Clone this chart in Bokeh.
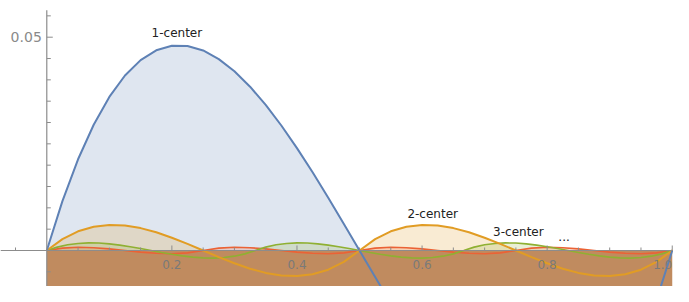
import numpy as np
from bokeh.plotting import figure
from bokeh.embed import file_html
from bokeh.resources import INLINE
from bokeh.core.properties import value

# ---- data ----
# 1-center (blue)
x1 = [0.0, 0.025, 0.05, 0.075, 0.1, 0.125, 0.15, 0.175, 0.2, 0.225, 0.25, 0.275, 0.3, 0.325, 0.35,
      0.375, 0.4, 0.425, 0.45, 0.475, 0.5, 0.525, 0.55, 0.575, 0.6, 0.625, 0.65, 0.675, 0.7, 0.725,
      0.75, 0.775, 0.8, 0.825, 0.85, 0.875, 0.9, 0.925, 0.95, 0.975, 1.0]
y1 = [0.0, 0.01158, 0.02138, 0.02948, 0.036, 0.04102, 0.04463, 0.04692, 0.048, 0.04795, 0.04688,
      0.04486, 0.042, 0.03839, 0.03413, 0.0293, 0.024, 0.01833, 0.01238, 0.00623, 0.0,
      -0.00623, -0.01238, -0.01833, -0.024, -0.0293, -0.03413, -0.03839, -0.042, -0.04486, -0.04688,
      -0.04795, -0.048, -0.04692, -0.04463, -0.04102, -0.036, -0.02948, -0.02138, -0.01158, 0.0]

# 2-center (orange)
x2 = x1
y2 = [0.0, 0.00267, 0.0045, 0.00558, 0.006, 0.00586, 0.00525, 0.00427, 0.003, 0.00155, 0.0,
      -0.00155, -0.003, -0.00427, -0.00525, -0.00586, -0.006, -0.00558, -0.0045, -0.00267, 0.0,
      0.00267, 0.0045, 0.00558, 0.006, 0.00586, 0.00525, 0.00427, 0.003, 0.00155, 0.0,
      -0.00155, -0.003, -0.00427, -0.00525, -0.00586, -0.006, -0.00558, -0.0045, -0.00267, 0.0]

# 3-center (green)
x3 = [0.0, 0.0167, 0.0333, 0.05, 0.0667, 0.0833, 0.1, 0.1167, 0.1333, 0.15, 0.1667, 0.1833, 0.2,
      0.2167, 0.2333, 0.25, 0.2667, 0.2833, 0.3, 0.3167, 0.3333, 0.35, 0.3667, 0.3833, 0.4, 0.4167,
      0.4333, 0.45, 0.4667, 0.4833, 0.5, 0.5167, 0.5333, 0.55, 0.5667, 0.5833, 0.6, 0.6167, 0.6333,
      0.65, 0.6667, 0.6833, 0.7, 0.7167, 0.7333, 0.75, 0.7667, 0.7833, 0.8, 0.8167, 0.8333, 0.85,
      0.8667, 0.8833, 0.9, 0.9167, 0.9333, 0.95, 0.9667, 0.9833, 1.0]
y3 = [0.0, 0.00079, 0.00133, 0.00165, 0.00178, 0.00174, 0.00156, 0.00126, 0.00089, 0.00046, 0.0,
      -0.00046, -0.00089, -0.00126, -0.00156, -0.00174, -0.00178, -0.00165, -0.00133, -0.00079, 0.0,
      0.00079, 0.00133, 0.00165, 0.00178, 0.00174, 0.00156, 0.00126, 0.00089, 0.00046, 0.0,
      -0.00046, -0.00089, -0.00126, -0.00156, -0.00174, -0.00178, -0.00165, -0.00133, -0.00079, 0.0,
      0.00079, 0.00133, 0.00165, 0.00178, 0.00174, 0.00156, 0.00126, 0.00089, 0.00046, 0.0,
      -0.00046, -0.00089, -0.00126, -0.00156, -0.00174, -0.00178, -0.00165, -0.00133, -0.00079, 0.0]

# 4-center (red)
x4 = x1
y4 = [0.0, 0.00056, 0.00075, 0.00066, 0.00038, 0.0, -0.00038, -0.00066, -0.00075, -0.00056, 0.0,
      0.00056, 0.00075, 0.00066, 0.00038, 0.0, -0.00038, -0.00066, -0.00075, -0.00056, 0.0,
      0.00056, 0.00075, 0.00066, 0.00038, 0.0, -0.00038, -0.00066, -0.00075, -0.00056, 0.0,
      0.00056, 0.00075, 0.00066, 0.00038, 0.0, -0.00038, -0.00066, -0.00075, -0.00056, 0.0]

x_tick_major = [0.2, 0.4, 0.6, 0.8, 1.0]
x_tick_labels = ["0.2", "0.4", "0.6", "0.8", "1.0"]
y_tick_major = [0.05]
y_tick_labels = ["0.05"]

label_text = ["1-center", "2-center", "3-center", "..."]
label_x = [0.208, 0.617, 0.754, 0.827]
label_y = [0.0509, 0.00867, 0.00422, 0.0032]

# ---- figure ----
W, H = 673, 286
X0, X1 = -0.074, 1.002
Y0, Y1 = -0.00844, 0.0586
sx = W / (X1 - X0)
sy = H / (Y1 - Y0)

p = figure(width=W, height=H, x_range=(X0, X1), y_range=(Y0, Y1),
           output_backend="svg", toolbar_location=None,
           x_axis_location=None, y_axis_location=None,
           min_border=0, outline_line_color=None, background_fill_color="white")
p.xgrid.grid_line_color = None
p.ygrid.grid_line_color = None

BLUE, ORANGE, GREEN, RED = "#5E81B5", "#E19C24", "#8FB032", "#EB6235"
series = [(x1, y1, BLUE), (x2, y2, ORANGE), (x3, y3, GREEN), (x4, y4, RED)]

for xs, ys, col in series:
    p.varea(x=xs, y1=np.zeros(len(xs)), y2=np.maximum(np.array(ys), 0),
            fill_color=col, fill_alpha=0.2)

# dense overlapping fill below the axis
p.quad(left=[0], right=[1], top=[0], bottom=[Y0 - 0.01],
       fill_color="#C08B5F", line_color=None)

widths = {BLUE: 2, ORANGE: 2, GREEN: 1.6, RED: 1.6}
for xs, ys, col in reversed(series):
    p.line(xs, ys, line_color=col, line_width=widths[col])

AX = "#8c8c8c"
# axes
p.segment(x0=[X0], y0=[0], x1=[X1], y1=[0], line_color=AX, line_width=1.2)
p.segment(x0=[0], y0=[Y0 - 0.01], x1=[0], y1=[0.0563], line_color=AX, line_width=1.2)

# x ticks
x_minor = [v for v in np.round(np.arange(-0.05, 1.0001, 0.05), 3) if v != 0 and v not in x_tick_major]
p.segment(x0=x_minor, y0=[0] * len(x_minor), x1=x_minor, y1=[3 / sy] * len(x_minor),
          line_color=AX, line_width=1)
p.segment(x0=x_tick_major, y0=[0] * 5, x1=x_tick_major, y1=[5 / sy] * 5,
          line_color=AX, line_width=1)
# y ticks
y_minor = [v for v in np.round(np.arange(-0.01, 0.0551, 0.005), 4) if v != 0 and v not in y_tick_major]
p.segment(x0=[0] * len(y_minor), y0=y_minor, x1=[4 / sx] * len(y_minor), y1=y_minor,
          line_color=AX, line_width=1)
p.segment(x0=[0], y0=y_tick_major, x1=[6 / sx], y1=y_tick_major, line_color=AX, line_width=1)

# tick labels (last one right-aligned so it stays inside the frame)
p.text(x=x_tick_major[:-1], y=[-14 / sy] * 4, text=x_tick_labels[:-1],
       text_font=value("DejaVu Sans"), text_font_size="12px",
       text_align="center", text_baseline="middle", text_color="#7a7a7a")
p.text(x=x_tick_major[-1:], y=[-14 / sy], text=x_tick_labels[-1:],
       text_font=value("DejaVu Sans"), text_font_size="12px",
       text_align="right", text_baseline="middle", text_color="#7a7a7a")
p.text(x=[-5 / sx], y=y_tick_major, text=y_tick_labels,
       text_font=value("DejaVu Sans"), text_font_size="14px",
       text_align="right", text_baseline="middle", text_color="#8a8a8a")

# curve labels
p.text(x=label_x, y=label_y, text=label_text,
       text_font=value("DejaVu Sans"), text_font_size="12px",
       text_align="center", text_baseline="middle", text_color="#222222")

open("out.html", "w").write(file_html(p, INLINE))
